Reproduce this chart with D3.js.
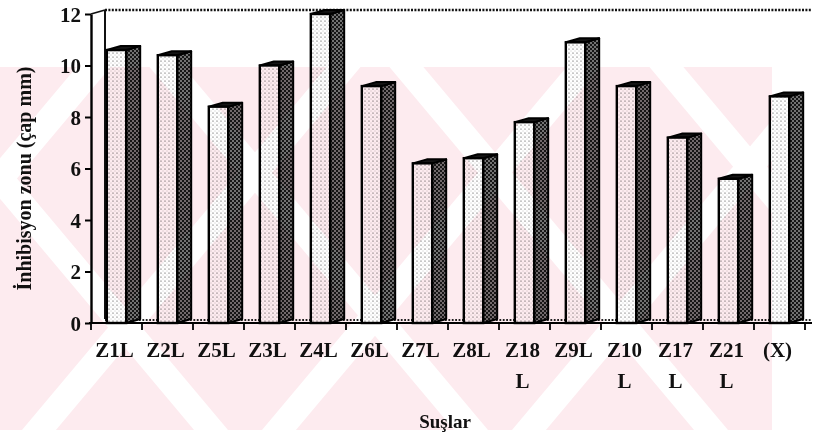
<!DOCTYPE html>
<html>
<head>
<meta charset="utf-8">
<script src="https://cdn.jsdelivr.net/npm/d3@7"></script>
<style>
  body { margin: 0; background: #fff; }
  svg { display: block; }
  text { font-family: "Liberation Serif", "Times New Roman", serif; font-weight: bold; fill: #111; }
</style>
</head>
<body>
<svg id="chart" width="814" height="441"></svg>
<script>
// Inhibition zone diameter (mm) per strain
const categories = ["Z1L", "Z2L", "Z5L", "Z3L", "Z4L", "Z6L", "Z7L", "Z8L", "Z18 L", "Z9L", "Z10 L", "Z17 L", "Z21 L", "(X)"];
const zoneValues = [10.6, 10.4, 8.4, 10.0, 12.0, 9.2, 6.2, 6.4, 7.8, 10.9, 9.2, 7.2, 5.6, 8.8];
const yTicks = [0, 2, 4, 6, 8, 10, 12];
const yTitle = "İnhibisyon zonu (çap mm)";
const xTitle = "Suşlar";

const W = 814, H = 441;
const plot = { left: 91, right: 805, top: 14, bottom: 323 };
const depth = { dx: 14, dy: -4 };   // 3-D offset of the back wall
const wallRight = 812;

const svg = d3.select("#chart");
const defs = svg.append("defs");

// stippled front face
const pFront = defs.append("pattern").attr("id", "stipple")
  .attr("patternUnits", "userSpaceOnUse").attr("width", 4).attr("height", 4);
pFront.append("rect").attr("width", 4).attr("height", 4).attr("fill", "#fff");
pFront.append("circle").attr("cx", 1).attr("cy", 1).attr("r", 0.6).attr("fill", "#333");
pFront.append("circle").attr("cx", 3).attr("cy", 3).attr("r", 0.45).attr("fill", "#888");

// dense hatched side face
const pSide = defs.append("pattern").attr("id", "hatch")
  .attr("patternUnits", "userSpaceOnUse").attr("width", 4).attr("height", 4);
pSide.append("rect").attr("width", 4).attr("height", 4).attr("fill", "#161616");
pSide.append("circle").attr("cx", 1).attr("cy", 1).attr("r", 0.8).attr("fill", "#e8e8e8");
pSide.append("circle").attr("cx", 3).attr("cy", 3).attr("r", 0.8).attr("fill", "#e8e8e8");

const x = d3.scaleBand().domain(categories).range([plot.left, plot.right]).padding(0);
const y = d3.scaleLinear().domain([0, 12]).range([plot.bottom, plot.top]);

const bw = x.bandwidth();
const frontOff = bw * 0.31, frontW = bw * 0.38;

// back wall: top edge, left edge, floor edge
const backTop = y(12) + depth.dy;
const backLeft = plot.left + depth.dx;
svg.append("line")
  .attr("x1", backLeft).attr("x2", wallRight).attr("y1", backTop).attr("y2", backTop)
  .attr("stroke", "#111").attr("stroke-width", 2.4).attr("stroke-dasharray", "2,1.4");
svg.append("line")
  .attr("x1", backLeft).attr("x2", backLeft).attr("y1", backTop).attr("y2", y(0) + depth.dy)
  .attr("stroke", "#111").attr("stroke-width", 2);
svg.append("line")
  .attr("x1", plot.left).attr("x2", backLeft).attr("y1", y(12)).attr("y2", backTop)
  .attr("stroke", "#111").attr("stroke-width", 1.8);
svg.append("line")
  .attr("x1", backLeft).attr("x2", wallRight).attr("y1", y(0) + depth.dy + 1).attr("y2", y(0) + depth.dy + 1)
  .attr("stroke", "#222").attr("stroke-width", 2).attr("stroke-dasharray", "1.8,1.6");

// bars
const bars = svg.append("g").selectAll("g").data(categories.map((c, i) => ({ c, v: zoneValues[i] })))
  .join("g");

bars.each(function(d) {
  const g = d3.select(this);
  const x0 = x(d.c) + frontOff, x1 = x0 + frontW;
  const yt = y(d.v), yb = y(0);
  const dx = depth.dx, dy = depth.dy;
  // side face
  g.append("path")
    .attr("d", `M${x1},${yt} L${x1 + dx},${yt + dy} L${x1 + dx},${yb + dy} L${x1},${yb} Z`)
    .attr("fill", "url(#hatch)").attr("stroke", "#000").attr("stroke-width", 2).attr("stroke-linejoin", "round");
  // top face
  g.append("path")
    .attr("d", `M${x0},${yt} L${x0 + dx},${yt + dy} L${x1 + dx},${yt + dy} L${x1},${yt} Z`)
    .attr("fill", "#151515").attr("stroke", "#000").attr("stroke-width", 2).attr("stroke-linejoin", "round");
  // front face
  g.append("rect")
    .attr("x", x0).attr("y", yt).attr("width", frontW).attr("height", yb - yt)
    .attr("fill", "url(#stipple)").attr("stroke", "#000").attr("stroke-width", 2.4);
});

// y axis
const yAxis = svg.append("g").attr("transform", `translate(${plot.left},0)`)
  .call(d3.axisLeft(y).tickValues(yTicks).tickSize(6).tickSizeOuter(0).tickPadding(4));
yAxis.select(".domain").attr("stroke", "#000").attr("stroke-width", 2.4);
yAxis.selectAll(".tick line").attr("stroke", "#000").attr("stroke-width", 2);
yAxis.selectAll(".tick text")
  .style("font-family", "'Liberation Serif', serif").style("font-weight", "bold")
  .style("font-size", "21px").attr("fill", "#111").attr("dy", "0.34em");

// x axis line with ticks at category boundaries
svg.append("line")
  .attr("x1", plot.left - 2).attr("x2", wallRight).attr("y1", y(0)).attr("y2", y(0))
  .attr("stroke", "#000").attr("stroke-width", 2.2);
const bounds = categories.map(c => x(c)).concat([plot.right]);
svg.append("g").selectAll("line").data(bounds).join("line")
  .attr("x1", d => d).attr("x2", d => d)
  .attr("y1", y(0)).attr("y2", y(0) + 7)
  .attr("stroke", "#000").attr("stroke-width", 1.8);

// category labels (wrapped on the space)
const labels = svg.append("g").selectAll("text").data(categories).join("text")
  .attr("x", d => x(d) + bw / 2 - 2)
  .attr("y", 357)
  .attr("text-anchor", "middle")
  .style("font-size", "21px");
labels.each(function(d) {
  const parts = d.split(" ");
  const t = d3.select(this);
  parts.forEach((p, i) => {
    t.append("tspan").attr("x", x(d) + bw / 2 - 2).attr("dy", i === 0 ? 0 : 31).text(p);
  });
});

// axis titles
svg.append("text")
  .attr("transform", `translate(31,${(plot.top + plot.bottom) / 2 + 10}) rotate(-90)`)
  .attr("text-anchor", "middle")
  .style("font-size", "20px")
  .text(yTitle);
svg.append("text")
  .attr("x", 445).attr("y", 428)
  .attr("text-anchor", "middle")
  .style("font-size", "19px")
  .text(xTitle);

// faint diagonal background print
const wm = svg.append("g").style("mix-blend-mode", "multiply");
defs.append("clipPath").attr("id", "wmClip")
  .append("rect").attr("x", 0).attr("y", 67).attr("width", 772).attr("height", 363);
const wmg = wm.append("g").attr("clip-path", "url(#wmClip)");
wmg.append("rect").attr("x", 0).attr("y", 67).attr("width", W).attr("height", 363).attr("fill", "#fdebef");
const slashes = [-60, 190, 430, 680];
const backslashes = [60, 320, 560, 820];
wmg.selectAll(".s").data(slashes).join("rect")
  .attr("transform", d => `translate(${d},250) rotate(40)`)
  .attr("x", -13).attr("y", -500).attr("width", 26).attr("height", 1000).attr("fill", "#fff");
wmg.selectAll(".b").data(backslashes).join("rect")
  .attr("transform", d => `translate(${d},250) rotate(-40)`)
  .attr("x", -13).attr("y", -500).attr("width", 26).attr("height", 1000).attr("fill", "#fff");
</script>
</body>
</html>
